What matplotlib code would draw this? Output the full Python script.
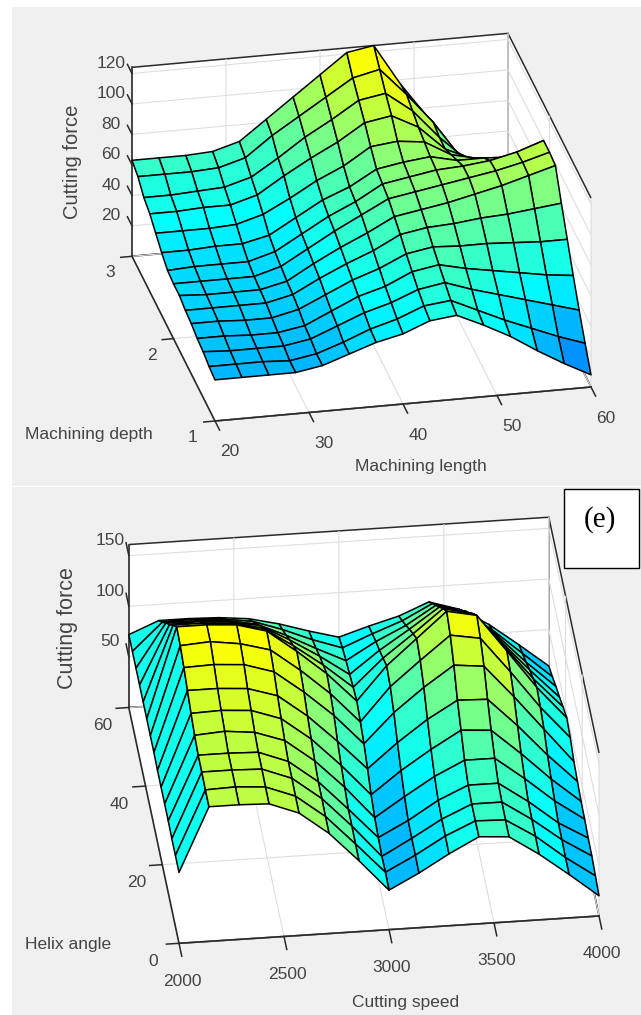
import numpy as np
import matplotlib
matplotlib.use("Agg")
import matplotlib.pyplot as plt
from matplotlib.colors import LinearSegmentedColormap, Normalize
from matplotlib.patches import Rectangle
from mpl_toolkits.mplot3d import proj3d

plt.rcParams['font.family'] = ['Liberation Sans', 'DejaVu Sans']
plt.rcParams['grid.color'] = '#dedede'
plt.rcParams['grid.linewidth'] = 0.8

W, H = 641, 1015

# top surface: rows run from depth 3 (back) to depth 1 (front)
length_grid = np.linspace(20, 60, 15)
depth_grid = np.linspace(3, 1, 15)
force_top = [
    [63, 63, 63, 64, 69, 82, 95, 108, 121, 124, 97, 74, 50, 40, 38],
    [60, 60, 60, 61, 66, 79, 90, 101, 112, 116, 98, 78, 54, 50, 50],
    [54, 54, 55, 56, 61, 72, 84, 94, 105, 108, 95, 76, 60, 58, 60],
    [51, 51, 52, 52, 57, 68, 78, 87, 98, 101, 92, 76, 68, 66, 70],
    [46, 46, 46, 47, 52, 61, 71, 79, 90, 92, 90, 80, 76, 74, 78],
    [41, 41, 42, 42, 46, 56, 66, 73, 83, 86, 88, 84, 84, 83, 86],
    [37, 38, 38, 38, 43, 53, 63, 71, 81, 84, 87, 88, 90, 94, 100],
    [36, 36, 36, 36, 41, 51, 61, 70, 79, 82, 85, 88, 91, 95, 100],
    [36, 35, 35, 35, 39, 49, 58, 66, 75, 78, 81, 85, 89, 94, 99],
    [34, 34, 34, 34, 38, 47, 55, 62, 71, 74, 75, 77, 78, 80, 82],
    [33, 33, 32, 32, 36, 44, 52, 58, 66, 69, 68, 68, 67, 66, 66],
    [31, 31, 30, 30, 33, 41, 49, 54, 62, 65, 61, 58, 55, 52, 50],
    [30, 29, 29, 29, 32, 39, 46, 51, 58, 61, 55, 50, 45, 40, 35],
    [28, 28, 28, 27, 30, 36, 43, 48, 55, 57, 49, 41, 34, 27, 21],
    [27, 27, 27, 27, 30, 36, 42, 46, 53, 55, 47, 38, 27, 17, 8],
]

# bottom surface: one list per speed column, helix angle 60 (back) to 0 (front)
speed_grid = np.linspace(2000, 4000, 15)
helix_grid = np.linspace(60, 0, 15)
force_bottom_cols = [
    [72, 72, 72, 72, 72, 72, 72, 72, 71, 71, 71, 71, 70, 70, 70],
    [84, 99, 115, 130, 146, 161, 159, 154, 148, 142, 137, 134, 134, 133, 133],
    [84, 100, 115, 131, 146, 161, 161, 155, 148, 143, 139, 134, 134, 134, 133],
    [83, 98, 113, 129, 144, 159, 157, 153, 146, 141, 136, 133, 133, 132, 132],
    [80, 94, 108, 123, 137, 151, 149, 144, 137, 131, 126, 122, 122, 121, 121],
    [73, 84, 95, 107, 118, 129, 127, 122, 115, 109, 104, 100, 100, 99, 99],
    [64, 72, 80, 89, 97, 105, 102, 97, 88, 81, 76, 71, 71, 70, 70],
    [56, 62, 66, 69, 73, 76, 72, 67, 59, 50, 44, 41, 39, 40, 39],
    [65, 74, 83, 91, 100, 109, 105, 96, 83, 72, 63, 56, 55, 55, 54],
    [73, 85, 97, 110, 122, 134, 129, 119, 104, 91, 81, 74, 72, 72, 71],
    [85, 100, 115, 130, 145, 159, 152, 139, 121, 108, 95, 87, 85, 85, 86],
    [76, 91, 107, 122, 138, 153, 147, 136, 120, 106, 95, 87, 85, 84, 84],
    [59, 70, 82, 93, 105, 116, 112, 104, 92, 81, 73, 67, 66, 66, 65],
    [37, 45, 53, 62, 70, 78, 75, 70, 61, 54, 49, 44, 44, 43, 43],
    [14, 20, 27, 33, 40, 46, 43, 36, 33, 30, 29, 27, 26, 23, 20],
]

length_ticks = [20, 30, 40, 50, 60]
depth_ticks = [1, 2, 3]
force_ticks_top = [20, 40, 60, 80, 100, 120]
speed_ticks = [2000, 2500, 3000, 3500, 4000]
helix_ticks = [0, 20, 40, 60]
force_ticks_bottom = [50, 100, 150]

TEXT = '#444444'
EDGE = '#2a2a2a'
surf_cmap = LinearSegmentedColormap.from_list(
    'blue_yellow', [(0, 0.5, 1), (0, 1, 1), (0.5, 1, 0.5), (1, 1, 0)])

fig = plt.figure(figsize=(W / 100, H / 100), dpi=100, facecolor='white')


def px_text(x, y, s, **kw):
    kw.setdefault('color', TEXT)
    kw.setdefault('fontsize', 12.5)
    kw.setdefault('ha', 'center')
    kw.setdefault('va', 'center')
    return fig.text(x / W, 1 - y / H, s, **kw)


def to_px(ax, x, y, z):
    xs, ys, _ = proj3d.proj_transform(x, y, z, ax.get_proj())
    ax.apply_aspect()
    return ax.transData.transform((xs, ys))


def fit_box(ax, corner_a, target_a, corner_b, target_b):
    # move and scale the axes until two box corners land on the wanted pixels
    ta = np.array([target_a[0], H - target_a[1]], dtype=float)
    tb = np.array([target_b[0], H - target_b[1]], dtype=float)
    pa = to_px(ax, *corner_a)
    pb = to_px(ax, *corner_b)
    k = np.linalg.norm(tb - ta) / np.linalg.norm(pb - pa)
    pos = ax.get_position(original=True)
    c = np.array([(pos.x0 + pos.width / 2) * W, (pos.y0 + pos.height / 2) * H])
    c_new = ta - k * (pa - c)
    w, h = pos.width * k, pos.height * k
    ax.set_position([c_new[0] / W - w / 2, c_new[1] / H - h / 2, w, h])


def draw_panel(X, Y, Z, xlim, ylim, zlim, xticks, yticks, zticks, aspect, elev, azim,
               vmin, vmax, target_a, target_b, xoff, yoff, zoff):
    ax = fig.add_axes([0.1, 0.1, 0.8, 0.8 * W / H], projection='3d', computed_zorder=False)
    ax.set_facecolor('none')
    ax.set_proj_type('ortho')
    ax.view_init(elev=elev, azim=azim)
    ax.set_box_aspect(aspect)

    gx, gy = np.meshgrid(X, Y)
    Z = np.array(Z, dtype=float)
    # flat shading like matlab: each cell takes the colour of its low x, low y corner
    cell_colors = surf_cmap(Normalize(vmin, vmax, clip=True)(Z[1:, :-1]))
    ax.plot_surface(gx, gy, Z, rstride=1, cstride=1, facecolors=cell_colors,
                    shade=False, edgecolor='black', linewidth=1.1, antialiased=True, zorder=2)

    ax.set_xticks(xticks)
    ax.set_yticks(yticks)
    ax.set_zticks(zticks)
    ax.set_xticklabels([])
    ax.set_yticklabels([])
    ax.set_zticklabels([])
    for axis in (ax.xaxis, ax.yaxis, ax.zaxis):
        axis.set_pane_color((1, 1, 1, 1))
        axis.pane.set_edgecolor(EDGE)
        axis.pane.set_linewidth(1.1)
        axis.line.set_color((0, 0, 0, 0))
        axis._axinfo['tick']['inward_factor'] = 0
        axis._axinfo['tick']['outward_factor'] = 0

    # box edges the panes draw too faintly
    ax.plot(xlim, [ylim[0], ylim[0]], [zlim[0], zlim[0]], color=EDGE, lw=1.2, zorder=1.5)
    ax.plot([xlim[0], xlim[0]], ylim, [zlim[0], zlim[0]], color=EDGE, lw=1.2, zorder=1.5)
    ax.plot([xlim[0], xlim[0]], [ylim[1], ylim[1]], zlim, color=EDGE, lw=1.2, zorder=1.5)

    # tick marks by hand, they stick out of the box like in matlab
    dx = (xlim[1] - xlim[0]) * 0.03
    dy = (ylim[1] - ylim[0]) * 0.055
    for t in xticks:
        ax.plot([t, t], [ylim[0], ylim[0] - dy], [zlim[0], zlim[0]], color=EDGE, lw=1.1, zorder=3)
    for t in yticks:
        ax.plot([xlim[0], xlim[0] - dx], [t, t], [zlim[0], zlim[0]], color=EDGE, lw=1.1, zorder=3)
    for t in zticks:
        ax.plot([xlim[0], xlim[0]], [ylim[1], ylim[1] + dy], [t, t], color=EDGE, lw=1.1, zorder=3)

    ax.set_xlim(*xlim)
    ax.set_ylim(*ylim)
    ax.set_zlim(*zlim)

    fit_box(ax, (xlim[0], ylim[0], zlim[0]), target_a, (xlim[1], ylim[0], zlim[0]), target_b)

    for t in xticks:
        p = to_px(ax, t, ylim[0], zlim[0])
        px_text(p[0] + xoff[0], H - p[1] + xoff[1], str(t))
    for t in yticks:
        p = to_px(ax, xlim[0], t, zlim[0])
        px_text(p[0] + yoff[0], H - p[1] + yoff[1], str(t))
    for t in zticks:
        p = to_px(ax, xlim[0], ylim[1], t)
        px_text(p[0] + zoff[0], H - p[1] + zoff[1], str(t))
    return ax


# grey figure backgrounds of the two matlab windows
fig.patches.append(Rectangle((12 / W, 1 - 486 / H), (W - 12) / W, 479 / H, transform=fig.transFigure,
                             facecolor='#f0f0f0', edgecolor='none', zorder=-2))
fig.patches.append(Rectangle((12 / W, 0), (W - 12) / W, 1 - 487 / H, transform=fig.transFigure,
                             facecolor='#f0f0f0', edgecolor='none', zorder=-2))

draw_panel(length_grid, depth_grid, force_top, (20, 60), (1, 3), (0, 124),
           length_ticks, depth_ticks, force_ticks_top,
           (384.5, 397.6, 208.6), 25.06, -102.05, 12, 114,
           (215, 421), (591, 387), (15, 31), (-22, 16.5), (-21, -10))

draw_panel(speed_grid, helix_grid, np.array(force_bottom_cols).T, (2000, 4000), (0, 60), (0, 161),
           speed_ticks, helix_ticks, force_ticks_bottom,
           (423, 429.6, 195.6), 33.56, -96.71, 18, 158,
           (179, 943.3), (599, 916), (3, 38), (-26, 18), (-19, -15))

px_text(73, 162, 'Cutting force', rotation=90, fontsize=14.5)
px_text(25, 434, 'Machining depth', ha='left')
px_text(421, 466, 'Machining length')

px_text(68, 628, 'Cutting force', rotation=90, fontsize=15.5)
px_text(25, 945, 'Helix angle', ha='left')
px_text(406, 1002, 'Cutting speed')

fig.patches.append(Rectangle((563.5 / W, 1 - 568 / H), 75 / W, 79 / H, transform=fig.transFigure,
                             facecolor='white', edgecolor='black', linewidth=1.0, zorder=5))
px_text(600, 520, '(e)', family=['Liberation Serif'], fontsize=21, color='black', zorder=6)

fig.savefig('out.png', dpi=100)
